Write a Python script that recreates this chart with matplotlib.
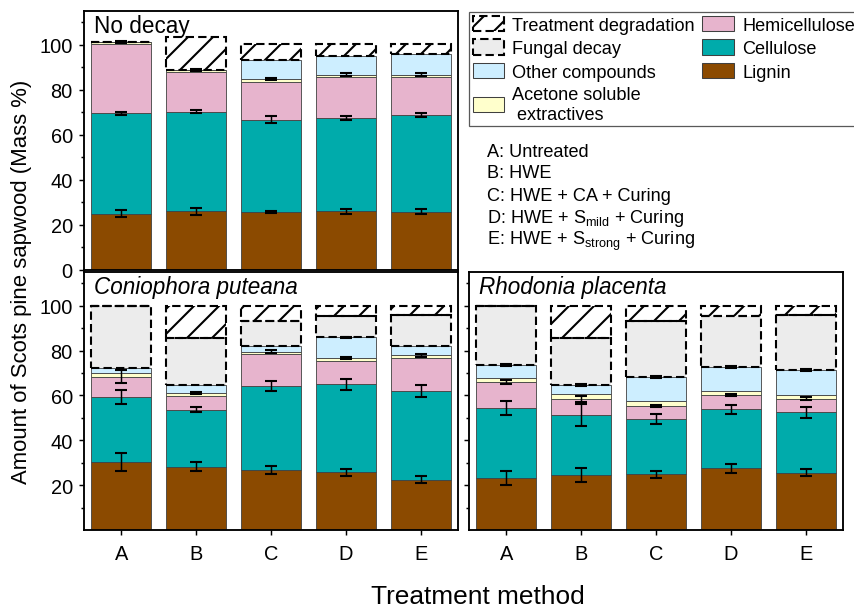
import matplotlib.pyplot as plt
import numpy as np
from matplotlib.patches import Patch

plt.rcParams['font.family'] = ['Liberation Sans', 'DejaVu Sans']
plt.rcParams['mathtext.fontset'] = 'custom'
plt.rcParams['mathtext.rm'] = 'Liberation Sans'
plt.rcParams['mathtext.it'] = 'Liberation Sans:italic'
plt.rcParams['hatch.linewidth'] = 1.0

treatments = ['A', 'B', 'C', 'D', 'E']

# mass % per component, stacked from the bottom
nd_lignin = [25.0, 26.1, 25.8, 26.1, 25.8]
nd_cellulose = [44.5, 44.1, 40.9, 41.5, 43.1]
nd_hemi = [30.8, 17.8, 16.9, 18.0, 17.0]
nd_extract = [0.9, 0.9, 1.1, 1.2, 0.9]
nd_other = [0.0, 0.0, 8.5, 8.3, 9.3]
nd_fungal = [0, 0, 0, 0, 0]
nd_degr = [0.0, 14.5, 7.1, 5.2, 4.2]
nd_lignin_err = [1.6, 1.5, 0.3, 1.1, 1.1]
nd_cellulose_err = [0.7, 0.7, 1.5, 1.0, 0.9]
nd_hemi_err = [0, 0, 0, 0, 0]
nd_extract_err = [0.5, 0.5, 0.5, 0.5, 0.5]
nd_other_err = [0, 0, 0, 0, 0]

cp_lignin = [30.3, 28.2, 26.6, 25.8, 22.4]
cp_cellulose = [28.9, 25.4, 37.7, 39.1, 39.7]
cp_hemi = [9.2, 6.2, 14.3, 10.4, 14.6]
cp_extract = [1.5, 1.4, 0.9, 1.2, 1.1]
cp_other = [2.2, 3.3, 2.5, 9.4, 4.4]
cp_fungal = [27.9, 21.2, 11.1, 9.4, 13.5]
cp_degr = [0.0, 14.3, 6.9, 4.7, 4.3]
cp_lignin_err = [4.2, 2.0, 1.8, 1.6, 1.6]
cp_cellulose_err = [3.1, 1.2, 2.3, 2.4, 2.7]
cp_hemi_err = [3.0, 0, 0, 0, 0]
cp_extract_err = [0, 0.5, 0.6, 0.5, 0.6]
cp_other_err = [0, 0, 0, 0.3, 0]

rp_lignin = [23.2, 24.4, 24.8, 27.6, 25.6]
rp_cellulose = [31.1, 27.0, 24.5, 26.3, 26.8]
rp_hemi = [11.7, 7.0, 6.0, 6.3, 6.2]
rp_extract = [1.8, 2.3, 2.0, 1.8, 1.4]
rp_other = [5.7, 4.0, 10.8, 10.6, 11.3]
rp_fungal = [26.5, 21.0, 25.0, 22.7, 24.4]
rp_degr = [0.0, 14.3, 6.9, 4.7, 4.3]
rp_lignin_err = [3.3, 3.2, 1.7, 2.0, 1.7]
rp_cellulose_err = [3.1, 4.9, 2.2, 2.0, 2.5]
rp_hemi_err = [0.8, 1.5, 0.4, 0.4, 0.6]
rp_extract_err = [0, 0, 0, 0, 0]
rp_other_err = [0.4, 0.3, 0.4, 0.4, 0.4]

colours = ['#8b4a00', '#00abab', '#e7b4cd', '#ffffcc', '#cdeeff']
fungal_colour = '#ececec'
dash = (0, (4, 2))

method_notes = ['A: Untreated',
                'B: HWE',
                'C: HWE + CA + Curing',
                r'D: HWE + S$_{\mathrm{mild}}$ + Curing',
                r'E: HWE + S$_{\mathrm{strong}}$ + Curing']


def draw_panel(ax, layers, fungal, degr, errs):
    x = np.arange(1, 6)
    bottom = np.zeros(5)
    tops = []
    for vals, col in zip(layers, colours):
        vals = np.asarray(vals, dtype=float)
        ax.bar(x, vals, 0.8, bottom=bottom, color=col,
               edgecolor='#404040', linewidth=0.4)
        bottom = bottom + vals
        tops.append(bottom.copy())
    fungal = np.asarray(fungal, dtype=float)
    if fungal.any():
        ax.bar(x, fungal, 0.8, bottom=bottom, color=fungal_colour, linewidth=0)
        ax.bar(x, fungal, 0.8, bottom=bottom, fill=False, edgecolor='k',
               linestyle=dash, linewidth=1.0)
    bottom = bottom + fungal
    # hatch drawn on its own so the lines stay solid, outline dashed on top
    ax.bar(x, degr, 0.8, bottom=bottom, fill=False, hatch='//', edgecolor='k',
           linewidth=0)
    ax.bar(x, degr, 0.8, bottom=bottom, fill=False, edgecolor='k',
           linestyle=dash, linewidth=1.0)
    for top, err in zip(tops, errs):
        err = np.asarray(err, dtype=float)
        m = err > 0
        if m.any():
            ax.errorbar(x[m], top[m], yerr=err[m], fmt='none', ecolor='k',
                        elinewidth=0.7, capsize=2.9, capthick=1.0, zorder=4)

    ax.set_xlim(0.5, 5.5)
    ax.set_ylim(0, 115)
    ax.set_xticks(x)
    ax.set_xticklabels(treatments)
    ax.set_yticks([10, 30, 50, 70, 90, 110], minor=True)
    ax.tick_params(which='both', direction='out', width=0.7, labelsize=9.6)
    ax.tick_params(which='major', length=2.6, pad=2.8)
    ax.tick_params(which='minor', length=1.6)
    ax.tick_params(axis='x', pad=4.3)
    for s in ax.spines.values():
        s.set_linewidth(0.9)


fig = plt.figure(figsize=(854 / 150, 609 / 150), dpi=150)
W, H = 854, 609


def box(l, t, r, b):
    return [l / W, 1 - b / H, (r - l) / W, (b - t) / H]


ax0 = fig.add_axes(box(84, 12, 458, 271))
ax1 = fig.add_axes(box(84, 273, 458, 531))
ax2 = fig.add_axes(box(469, 273, 843, 531))

draw_panel(ax0, [nd_lignin, nd_cellulose, nd_hemi, nd_extract, nd_other],
           nd_fungal, nd_degr,
           [nd_lignin_err, nd_cellulose_err, nd_hemi_err, nd_extract_err, nd_other_err])
draw_panel(ax1, [cp_lignin, cp_cellulose, cp_hemi, cp_extract, cp_other],
           cp_fungal, cp_degr,
           [cp_lignin_err, cp_cellulose_err, cp_hemi_err, cp_extract_err, cp_other_err])
draw_panel(ax2, [rp_lignin, rp_cellulose, rp_hemi, rp_extract, rp_other],
           rp_fungal, rp_degr,
           [rp_lignin_err, rp_cellulose_err, rp_hemi_err, rp_extract_err, rp_other_err])

ax0.set_yticks([0, 20, 40, 60, 80, 100])
ax0.tick_params(axis='x', bottom=False, labelbottom=False)
ax1.set_yticks([20, 40, 60, 80, 100])
ax2.set_yticks([20, 40, 60, 80, 100])
ax2.set_yticklabels([])

ax0.text(0.028, 0.99, 'No decay', transform=ax0.transAxes, va='top', fontsize=10.8)
ax1.text(0.028, 0.99, 'Coniophora puteana', transform=ax1.transAxes, va='top',
         fontsize=10.8, style='italic')
ax2.text(0.028, 0.99, 'Rhodonia placenta', transform=ax2.transAxes, va='top',
         fontsize=10.8, style='italic')

fig.text(22 / W, 1 - 282 / H, 'Amount of Scots pine sapwood (Mass %)',
         rotation=90, ha='center', va='center', fontsize=10.6)
fig.text(478 / W, 1 - 597 / H, 'Treatment method', ha='center', va='center',
         fontsize=12.6)

baselines = [157, 178, 201, 223, 245]
for note, yb in zip(method_notes, baselines):
    fig.text(487 / W, 1 - yb / H, note, ha='left', va='baseline', fontsize=8.7)

degr_handle = (Patch(facecolor='white', edgecolor='k', hatch='//', linewidth=0),
               Patch(fill=False, edgecolor='k', linestyle=dash, linewidth=1.0))
handles = [
    degr_handle,
    Patch(facecolor=fungal_colour, edgecolor='k', linestyle=dash, linewidth=1.0),
    Patch(facecolor=colours[4], edgecolor='#404040', linewidth=0.5),
    Patch(facecolor=colours[3], edgecolor='#404040', linewidth=0.5),
    Patch(facecolor=colours[2], edgecolor='#404040', linewidth=0.5),
    Patch(facecolor=colours[1], edgecolor='#404040', linewidth=0.5),
    Patch(facecolor=colours[0], edgecolor='#404040', linewidth=0.5),
]
labels = ['Treatment degradation', 'Fungal decay', 'Other compounds',
          'Acetone soluble\n extractives', 'Hemicellulose', 'Cellulose', 'Lignin']
leg = fig.legend(handles, labels, loc='upper left', ncol=2,
                 bbox_to_anchor=(469 / W, 1 - 13 / H), borderaxespad=0,
                 fontsize=8.7, frameon=True, fancybox=False, edgecolor='#303030',
                 handlelength=1.75, handleheight=0.95, handletextpad=0.45,
                 labelspacing=0.3, columnspacing=0.4, borderpad=0.2)
leg.get_frame().set_linewidth(0.6)

fig.savefig('out.png', dpi=150)
